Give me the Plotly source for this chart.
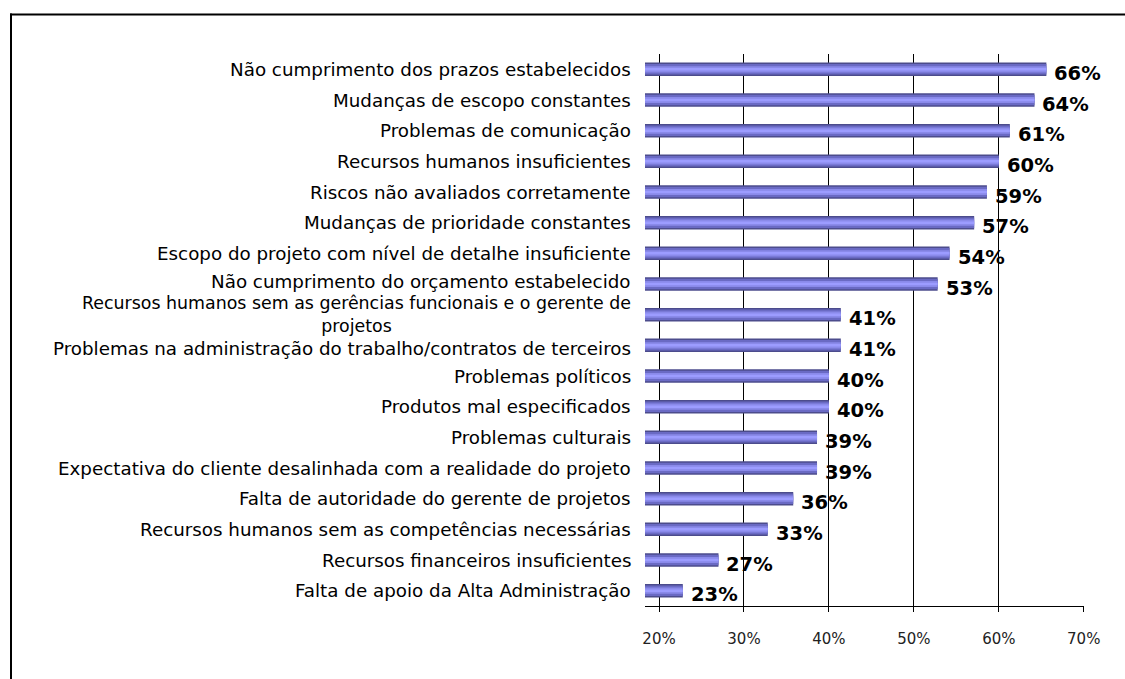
import plotly.graph_objects as go

categories = [
    "Não cumprimento dos prazos estabelecidos",
    "Mudanças de escopo constantes",
    "Problemas de comunicação",
    "Recursos humanos insuficientes",
    "Riscos não avaliados corretamente",
    "Mudanças de prioridade constantes",
    "Escopo do projeto com nível de detalhe insuficiente",
    "Não cumprimento do orçamento estabelecido",
    "Recursos humanos sem as gerências funcionais e o gerente de<br>projetos",
    "Problemas na administração do trabalho/contratos de terceiros",
    "Problemas políticos",
    "Produtos mal especificados",
    "Problemas culturais",
    "Expectativa do cliente desalinhada com a realidade do projeto",
    "Falta de autoridade do gerente de projetos",
    "Recursos humanos sem as competências necessárias",
    "Recursos financeiros insuficientes",
    "Falta de apoio da Alta Administração",
]
values = [65.6, 64.2, 61.3, 60.0, 58.6, 57.1, 54.2, 52.8, 41.4, 41.4,
          40.0, 40.0, 38.6, 38.6, 35.8, 32.8, 27.0, 22.8]
value_labels = [f"{round(v)}%" for v in values]
tick_values = [20, 30, 40, 50, 60, 70]
tick_labels = ["20%", "30%", "40%", "50%", "60%", "70%"]

W, H = 1125, 679
L, R, T, B = 645, 41, 54, 73
pw, ph = W - L - R, H - T - B

fig = go.Figure()
# layered bars to imitate a cylinder gradient
for width, color in [(0.44, "#4c4c8c"), (0.34, "#6a6ac4"), (0.2, "#8a8aea"), (0.08, "#9c9cff")]:
    fig.add_trace(go.Bar(
        x=values, y=categories, orientation="h", width=width,
        marker=dict(color=color, line=dict(width=0)),
        hoverinfo="skip", showlegend=False,
    ))

annotations = []
for i, (c, v, lab) in enumerate(zip(categories, values, value_labels)):
    annotations.append(dict(
        x=v, y=c, xref="x", yref="y", text=lab, showarrow=False,
        xanchor="left", yanchor="middle", xshift=6, yshift=-4,
        font=dict(family="DejaVu Sans", size=19.5, color="#000000", weight="bold"),
    ))
    wrapped = "<br>" in c
    shift = {7: 3, 9: -3}.get(i, 0)
    annotations.append(dict(
        x=(632 - L) / pw, y=c, xref="paper", yref="y", text=c, showarrow=False,
        xanchor="right", yanchor="middle", align="center", yshift=shift,
        borderpad=0,
        font=dict(family="DejaVu Sans", size=17.4 if wrapped else 18.3, color="#000000"),
    ))

top_y = (H - B - 14.5) / ph
left_x = (11 - L) / pw
shapes = [
    dict(type="line", xref="paper", yref="paper",
         x0=left_x, x1=left_x, y0=top_y + 1.0 / ph, y1=-(B + 20) / ph,
         line=dict(color="#000000", width=2)),
    dict(type="line", xref="paper", yref="paper",
         x0=left_x - 1.0 / pw, x1=(W + 10 - L) / pw,
         y0=top_y, y1=top_y,
         line=dict(color="#000000", width=2)),
]

fig.update_layout(
    width=W, height=H,
    margin=dict(l=L, r=R, t=T, b=B, pad=0),
    paper_bgcolor="white", plot_bgcolor="white",
    barmode="overlay",
    font=dict(family="DejaVu Sans", color="#000000"),
    annotations=annotations,
    shapes=shapes,
    xaxis=dict(
        range=[18.35, 70.03], tickvals=tick_values, ticktext=tick_labels,
        showgrid=True, gridcolor="#000000", gridwidth=1,
        showline=True, linecolor="#000000", linewidth=1,
        ticks="outside", ticklen=5, tickcolor="#000000",
        tickfont=dict(family="DejaVu Sans", size=15, color="#222222"),
        ticklabelstandoff=14, zeroline=False, fixedrange=True,
    ),
    yaxis=dict(
        type="category", categoryorder="array", categoryarray=categories,
        range=[17.5, -0.5], showticklabels=False, showgrid=False,
        showline=False, ticks="", zeroline=False, fixedrange=True,
    ),
)

fig.write_html("out.html")
